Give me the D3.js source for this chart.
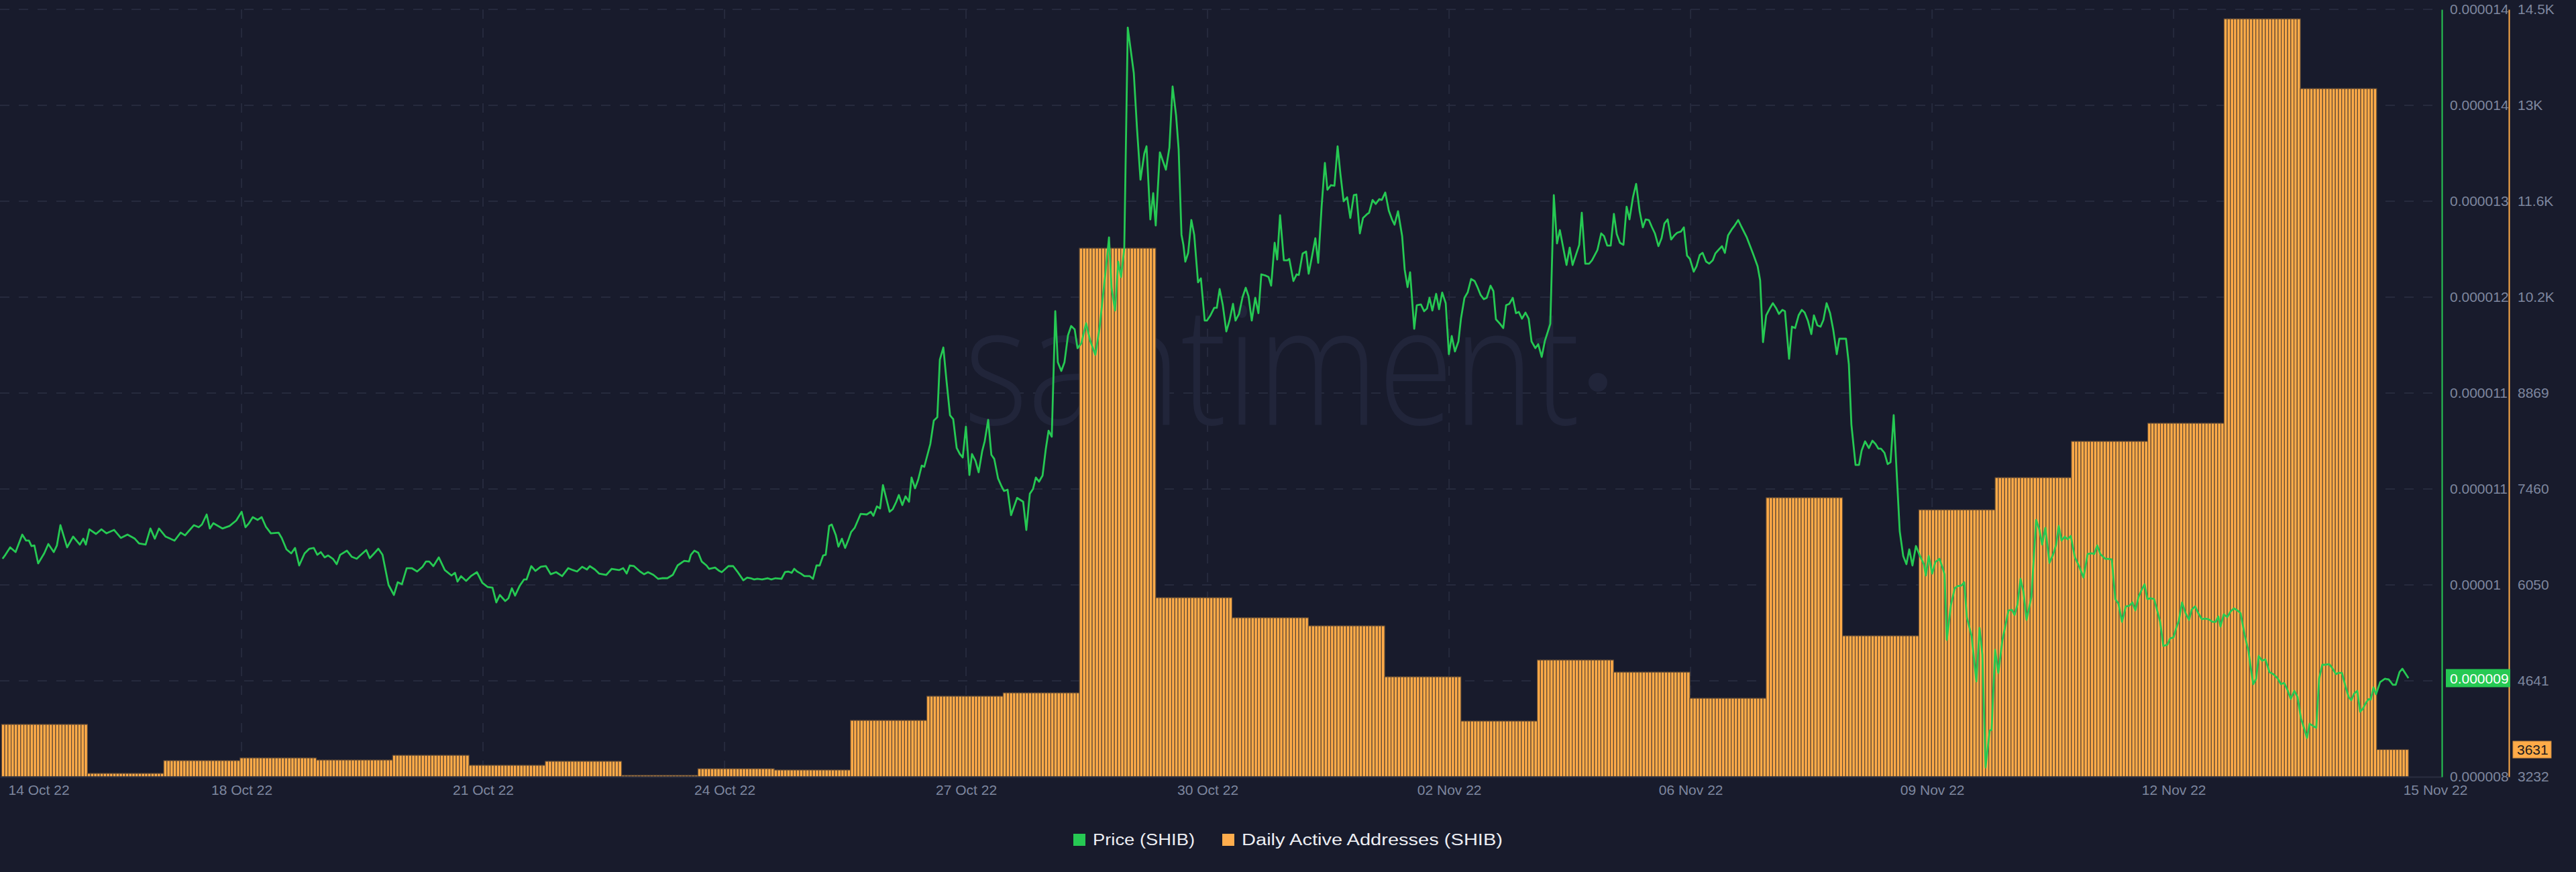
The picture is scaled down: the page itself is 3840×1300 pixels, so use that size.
<!DOCTYPE html>
<html><head><meta charset="utf-8">
<script src="https://cdn.jsdelivr.net/npm/d3@7"></script>
<style>
html,body{margin:0;padding:0;background:#181b2c;}
svg{display:block;}
text{font-family:"Liberation Sans",Arial,sans-serif;}
</style></head><body>
<svg id="chart" width="3840" height="1300"></svg>
<script>
// ---------------- DATA ----------------
const seriesStart = "2022-10-14T20:30:00Z";   // left edge of the time axis
const seriesSpanHours = 768;                   // 32 days shown

// Daily Active Addresses (SHIB), one value per UTC day
const daaDates = ["2022-10-14","2022-10-15","2022-10-16","2022-10-17","2022-10-18","2022-10-19","2022-10-20","2022-10-21","2022-10-22","2022-10-23","2022-10-24","2022-10-25","2022-10-26","2022-10-27","2022-10-28","2022-10-29","2022-10-30","2022-10-31","2022-11-01","2022-11-02","2022-11-03","2022-11-04","2022-11-05","2022-11-06","2022-11-07","2022-11-08","2022-11-09","2022-11-10","2022-11-11","2022-11-12","2022-11-13","2022-11-14","2022-11-15"];
const daaValues = [4001,4001,3281,3469,3508,3478,3547,3400,3459,3252,3350,3331,4060,4415,4464,10998,5863,5568,5449,4700,4050,4947,4769,4385,7332,5302,7154,7627,8160,8426,14368,13343,3631];
const daaFirstHour = "2022-10-14T21:00:00Z";
const daaLastHourEnd = "2022-11-15T10:00:00Z";

// Price (SHIB) in micro-USD, [hours since seriesStart, price]
const priceSeries = [[0.8,10.023],[1.7,10.054],[3.2,10.112],[4.9,10.075],[7.0,10.211],[8.2,10.164],[9.1,10.164],[9.9,10.122],[10.8,10.127],[12.0,9.987],[13.9,10.065],[15.2,10.138],[16.9,10.075],[17.9,10.127],[19.0,10.284],[21.1,10.112],[23.0,10.195],[25.1,10.133],[26.2,10.179],[27.0,10.133],[28.1,10.252],[30.2,10.216],[31.9,10.252],[33.5,10.221],[35.9,10.247],[38.0,10.185],[40.1,10.211],[42.4,10.179],[43.7,10.143],[45.8,10.133],[47.3,10.258],[48.7,10.179],[50.0,10.258],[52.1,10.195],[54.9,10.164],[56.8,10.226],[58.2,10.205],[59.5,10.242],[61.0,10.284],[62.5,10.268],[63.5,10.289],[65.0,10.367],[66.0,10.258],[67.1,10.299],[70.0,10.258],[72.2,10.278],[74.3,10.320],[76.0,10.388],[77.2,10.268],[78.3,10.299],[79.5,10.346],[81.0,10.325],[82.3,10.346],[83.6,10.273],[85.2,10.221],[87.6,10.226],[88.6,10.185],[90.1,10.096],[91.6,10.065],[92.8,10.107],[94.1,9.971],[95.8,10.065],[97.3,10.101],[98.7,10.107],[99.8,10.054],[100.9,10.075],[102.1,10.034],[103.2,10.049],[104.7,10.023],[105.9,9.981],[107.0,10.054],[109.1,10.086],[110.6,10.039],[112.2,10.023],[113.3,10.049],[115.2,10.091],[116.3,10.028],[117.5,10.060],[119.0,10.101],[120.3,10.054],[122.2,9.820],[123.9,9.742],[125.1,9.841],[126.4,9.825],[127.9,9.950],[129.5,9.950],[131.2,9.924],[132.9,9.961],[134.0,10.002],[135.0,10.002],[136.3,9.966],[138.0,10.034],[139.9,9.935],[142.0,9.893],[143.1,9.914],[143.9,9.846],[145.0,9.888],[146.6,9.851],[148.1,9.888],[150.0,9.919],[151.7,9.836],[153.4,9.804],[154.9,9.799],[156.1,9.684],[157.2,9.742],[158.9,9.695],[159.9,9.716],[161.0,9.794],[162.0,9.737],[163.5,9.815],[164.8,9.862],[165.6,9.862],[167.1,9.966],[168.4,9.929],[170.1,9.961],[171.7,9.966],[173.2,9.903],[174.9,9.919],[176.8,9.888],[178.7,9.950],[180.2,9.935],[181.5,9.924],[183.1,9.961],[184.6,9.940],[185.5,9.966],[187.1,9.940],[188.4,9.908],[190.7,9.898],[192.4,9.945],[194.7,9.935],[196.0,9.950],[197.1,9.908],[198.1,9.971],[199.4,9.966],[201.3,9.924],[202.6,9.903],[203.8,9.919],[205.5,9.898],[207.0,9.867],[208.2,9.872],[209.9,9.872],[211.6,9.898],[213.1,9.971],[215.2,10.007],[216.7,10.002],[217.3,10.054],[218.4,10.086],[219.6,10.070],[220.7,10.002],[222.2,9.971],[223.0,9.945],[224.9,9.955],[226.2,9.929],[227.0,9.919],[229.1,9.966],[230.6,9.966],[231.9,9.924],[233.8,9.856],[235.0,9.877],[236.1,9.872],[237.2,9.862],[238.2,9.867],[239.7,9.862],[241.4,9.872],[242.6,9.862],[243.9,9.872],[245.8,9.867],[246.9,9.919],[247.9,9.924],[249.0,9.914],[249.8,9.945],[250.7,9.924],[251.9,9.908],[253.0,9.888],[254.7,9.888],[255.7,9.867],[256.8,9.971],[257.8,9.971],[258.9,10.049],[259.7,10.054],[260.8,10.278],[261.6,10.289],[262.9,10.205],[263.7,10.117],[264.8,10.179],[265.8,10.107],[266.9,10.174],[267.7,10.231],[268.8,10.263],[270.7,10.372],[272.6,10.367],[273.9,10.388],[274.7,10.357],[275.8,10.430],[276.8,10.414],[277.7,10.596],[279.8,10.388],[280.8,10.409],[281.9,10.466],[282.7,10.518],[283.8,10.440],[284.8,10.508],[285.9,10.466],[286.7,10.654],[287.8,10.570],[288.8,10.638],[289.9,10.747],[290.7,10.737],[292.6,10.914],[293.7,11.096],[294.8,11.122],[295.6,11.570],[296.7,11.664],[297.7,11.404],[298.8,11.138],[299.8,11.107],[300.9,10.883],[301.9,10.836],[302.8,10.810],[303.8,11.049],[304.9,10.674],[305.7,10.836],[306.8,10.784],[307.8,10.695],[308.9,10.857],[309.7,10.935],[310.8,11.102],[311.8,10.831],[312.7,10.799],[313.9,10.648],[315.0,10.586],[315.8,10.549],[316.9,10.560],[318.0,10.362],[319.9,10.496],[321.8,10.466],[322.8,10.247],[323.9,10.528],[324.9,10.565],[325.8,10.654],[326.8,10.622],[327.9,10.669],[328.9,10.872],[329.8,11.018],[330.8,10.971],[331.9,11.946],[332.7,11.550],[333.8,11.482],[334.8,11.550],[335.9,11.758],[336.9,11.831],[338.0,11.805],[338.9,11.659],[340.1,11.696],[341.6,11.852],[342.9,11.716],[344.5,11.607],[345.8,11.810],[347.7,12.248],[348.8,12.519],[349.6,12.128],[350.7,11.951],[351.7,12.331],[352.6,12.211],[353.6,12.430],[354.7,14.149],[356.6,13.795],[357.6,13.368],[358.7,12.967],[359.9,13.170],[360.6,13.227],[361.8,12.659],[362.7,12.863],[363.5,12.612],[364.8,13.180],[366.7,13.045],[367.8,13.217],[368.8,13.691],[369.9,13.467],[370.7,13.206],[371.6,12.540],[372.2,12.461],[372.8,12.331],[373.7,12.399],[374.7,12.654],[375.6,12.540],[376.8,12.170],[377.7,12.201],[378.9,11.873],[379.6,11.873],[380.6,11.909],[381.9,11.972],[382.7,11.972],[383.6,12.118],[384.6,11.992],[385.7,11.789],[386.7,11.873],[387.8,12.003],[388.6,11.873],[389.7,11.925],[390.8,12.055],[391.8,12.128],[392.7,12.060],[393.7,11.873],[394.8,12.050],[395.8,11.930],[396.7,12.232],[398.1,12.222],[399.0,12.211],[399.8,12.144],[400.9,12.477],[401.7,12.347],[402.6,12.691],[403.8,12.341],[404.9,12.341],[405.5,12.352],[406.8,12.180],[407.8,12.232],[408.5,12.227],[409.7,12.394],[410.8,12.409],[411.6,12.237],[412.7,12.378],[413.7,12.513],[414.6,12.321],[415.7,12.769],[416.7,13.097],[417.5,12.889],[418.6,12.925],[419.7,12.920],[420.7,13.227],[421.6,13.008],[422.6,12.800],[423.7,12.831],[424.7,12.670],[425.8,12.847],[426.6,12.852],[427.7,12.550],[428.7,12.670],[429.8,12.696],[430.6,12.711],[431.7,12.810],[432.7,12.779],[433.8,12.816],[434.6,12.810],[435.7,12.868],[436.8,12.727],[437.8,12.659],[438.6,12.618],[439.7,12.722],[441.0,12.529],[441.8,12.269],[442.7,12.133],[443.5,12.248],[444.8,11.810],[445.6,11.992],[446.9,11.998],[447.9,11.946],[448.8,11.966],[449.6,12.050],[450.5,11.951],[451.7,12.081],[452.6,11.961],[453.6,12.091],[454.7,12.008],[455.7,11.612],[456.6,11.753],[457.6,11.633],[458.7,11.711],[459.5,11.888],[460.6,12.050],[461.6,12.091],[462.7,12.196],[463.8,12.180],[464.6,12.138],[465.7,12.071],[466.7,12.039],[467.6,12.050],[468.8,12.144],[469.7,12.102],[470.5,11.883],[471.8,11.847],[472.8,11.815],[473.7,11.992],[474.7,12.003],[475.8,12.050],[476.8,11.930],[477.7,11.940],[478.7,11.888],[479.8,11.935],[480.8,11.888],[481.7,11.711],[482.9,11.659],[483.8,11.690],[484.9,11.591],[485.9,11.716],[487.6,11.847],[488.7,12.847],[489.7,12.472],[490.6,12.576],[492.7,12.305],[493.7,12.440],[494.6,12.305],[496.7,12.461],[497.5,12.711],[498.6,12.315],[499.8,12.315],[500.7,12.341],[502.4,12.420],[503.6,12.550],[504.5,12.529],[505.5,12.456],[506.6,12.456],[507.6,12.701],[508.5,12.545],[509.5,12.477],[510.6,12.461],[511.6,12.758],[512.5,12.659],[513.6,12.831],[514.6,12.935],[515.7,12.722],[516.7,12.597],[517.6,12.659],[518.6,12.654],[519.5,12.602],[520.5,12.550],[521.6,12.451],[522.6,12.513],[523.5,12.628],[524.5,12.659],[525.6,12.503],[526.6,12.534],[527.5,12.555],[528.7,12.565],[529.6,12.597],[530.6,12.378],[531.5,12.352],[532.7,12.253],[533.6,12.295],[534.6,12.383],[535.5,12.399],[536.6,12.331],[537.6,12.315],[538.7,12.341],[539.5,12.394],[540.6,12.425],[541.6,12.451],[542.5,12.399],[543.5,12.534],[544.8,12.586],[545.6,12.612],[546.7,12.654],[547.7,12.602],[549.4,12.519],[550.7,12.435],[551.5,12.383],[552.8,12.295],[553.6,12.185],[554.5,11.706],[555.5,11.914],[556.6,11.966],[557.6,12.008],[558.7,11.966],[559.5,11.925],[560.6,11.956],[561.4,11.946],[562.7,11.576],[563.6,11.826],[564.6,11.815],[565.7,11.914],[566.7,11.956],[567.6,11.935],[568.6,11.873],[569.7,11.768],[570.5,11.914],[571.6,11.836],[572.6,11.826],[573.5,11.878],[574.5,12.008],[575.6,11.930],[576.6,11.800],[577.7,11.612],[578.5,11.732],[580.6,11.732],[581.5,11.534],[582.3,11.065],[583.6,10.752],[584.7,10.752],[585.5,10.862],[586.6,10.935],[587.8,10.883],[588.9,10.940],[589.9,10.914],[590.8,10.878],[591.6,10.878],[592.7,10.846],[593.7,10.758],[594.6,10.773],[595.6,11.138],[596.5,10.711],[597.5,10.237],[598.6,10.044],[599.6,9.981],[600.5,10.096],[601.5,9.971],[602.6,10.122],[603.8,10.049],[605.1,9.981],[605.7,9.893],[606.6,10.044],[607.7,9.908],[608.7,9.997],[610.0,10.023],[610.8,9.966],[611.6,9.903],[612.3,9.393],[613.6,9.664],[614.8,9.794],[615.7,9.810],[616.9,9.815],[617.8,9.841],[618.6,9.570],[620.1,9.424],[621.6,9.070],[622.6,9.486],[623.5,9.278],[624.5,8.403],[625.8,8.689],[626.4,8.694],[627.5,9.315],[628.5,9.137],[629.8,9.393],[630.9,9.523],[631.7,9.622],[632.8,9.627],[633.6,9.586],[634.5,9.664],[635.5,9.867],[636.4,9.768],[637.4,9.549],[638.9,9.726],[640.4,10.325],[641.4,10.252],[642.3,10.133],[643.3,10.263],[644.6,9.992],[645.8,10.060],[646.7,10.133],[647.5,10.278],[648.4,10.164],[649.4,10.195],[650.3,10.174],[651.3,10.200],[652.6,10.034],[653.9,9.966],[655.3,9.877],[656.6,10.060],[657.9,10.065],[658.7,10.060],[659.6,10.127],[660.6,10.060],[662.1,10.023],[662.9,10.023],[664.2,10.018],[665.3,9.710],[666.3,9.674],[667.4,9.533],[668.6,9.653],[669.7,9.658],[670.7,9.684],[671.6,9.622],[672.6,9.726],[673.5,9.778],[674.5,9.825],[675.4,9.710],[676.4,9.716],[677.5,9.710],[678.3,9.638],[679.4,9.533],[680.4,9.346],[681.7,9.356],[682.5,9.403],[683.6,9.413],[684.4,9.481],[685.3,9.544],[686.3,9.684],[687.4,9.601],[688.5,9.549],[689.3,9.627],[690.4,9.653],[691.4,9.601],[692.5,9.554],[693.5,9.559],[694.6,9.554],[695.9,9.533],[696.9,9.533],[697.7,9.575],[698.4,9.497],[699.4,9.591],[700.5,9.570],[701.5,9.612],[702.6,9.638],[703.7,9.622],[704.7,9.601],[706.0,9.429],[707.2,9.304],[708.1,9.143],[708.7,9.049],[709.6,9.091],[710.4,9.268],[711.5,9.231],[712.5,9.242],[713.8,9.143],[715.0,9.127],[716.3,9.096],[717.4,9.049],[718.4,9.059],[719.5,9.002],[720.5,8.934],[721.6,8.997],[722.6,8.950],[723.7,8.783],[724.7,8.705],[725.6,8.632],[726.4,8.742],[727.7,8.721],[728.5,8.710],[729.4,9.091],[730.4,9.200],[731.3,9.200],[732.6,9.205],[733.4,9.179],[734.7,9.127],[735.5,9.137],[736.6,9.137],[737.8,9.023],[738.7,8.950],[739.5,8.924],[740.4,8.976],[741.4,8.997],[742.3,8.835],[743.1,8.856],[744.2,8.908],[745.0,8.934],[745.6,8.929],[746.5,9.023],[747.3,8.971],[748.6,9.065],[750.1,9.091],[751.3,9.086],[752.6,9.044],[753.5,9.044],[754.7,9.143],[755.6,9.169],[756.4,9.137],[757.5,9.096]];

// Axis ticks
const xTickTimes = ["2022-10-14T20:30Z","2022-10-18T00:28Z","2022-10-21T04:25Z","2022-10-24T08:23Z","2022-10-27T12:20Z","2022-10-30T16:18Z","2022-11-02T20:16Z","2022-11-06T00:13Z","2022-11-09T04:11Z","2022-11-12T08:08Z","2022-11-15T18:24Z"];
const xTickLabels = ["14 Oct 22","18 Oct 22","21 Oct 22","24 Oct 22","27 Oct 22","30 Oct 22","02 Nov 22","06 Nov 22","09 Nov 22","12 Nov 22","15 Nov 22"];
const priceDomainMicro = [8.33, 14.29];
const priceTickLabels = ["0.000008","0.000009","0.00001","0.000011","0.000011","0.000012","0.000013","0.000014","0.000014"];
const daaDomain = [3232, 14507];
const daaTickLabels = ["3232","4641","6050","7460","8869","10.2K","11.6K","13K","14.5K"];
const legendItems = [{name:"Price (SHIB)", color:"#26c953", textWidth:152},{name:"Daily Active Addresses (SHIB)", color:"#ffad4d", textWidth:389}];

// ---------------- LAYOUT ----------------
const plotL = 0, plotR = 3640, plotT = 14, plotB = 1158;
const GREEN = "#26c953", ORANGE = "#ffab48", BG = "#181b2c", GRID = "#262a3d", AXIS_TXT = "#7e879f";
const TICK_FONT = "21px";

const svg = d3.select("#chart");
svg.append("rect").attr("width",3840).attr("height",1300).attr("fill",BG);

const t0 = new Date(seriesStart);
const hourMs = 3600e3;
const x = d3.scaleUtc().domain([t0, new Date(t0.getTime() + seriesSpanHours*hourMs)]).range([plotL, plotR]);
const yP = d3.scaleLinear().domain(priceDomainMicro).range([plotB, plotT]);
const yD = d3.scaleLinear().domain(daaDomain).range([plotB, plotT]);

const nTicks = priceTickLabels.length;
const priceTicks = d3.range(nTicks).map(i => priceDomainMicro[0] + i*(priceDomainMicro[1]-priceDomainMicro[0])/(nTicks-1));
const daaTicks = d3.range(nTicks).map(i => daaDomain[0] + i*(daaDomain[1]-daaDomain[0])/(nTicks-1));
const xTicks = xTickTimes.map(s => new Date(s));

// grid
const grid = svg.append("g");
grid.selectAll("line.h").data(priceTicks.slice(1)).join("line")
  .attr("x1",plotL).attr("x2",plotR).attr("y1",d=>yP(d)).attr("y2",d=>yP(d))
  .attr("stroke",GRID).attr("stroke-width",2).attr("stroke-dasharray","14,14");
grid.selectAll("line.v").data(xTicks.slice(1,-1)).join("line")
  .attr("x1",d=>x(d)).attr("x2",d=>x(d)).attr("y1",plotT).attr("y2",plotB)
  .attr("stroke",GRID).attr("stroke-width",2).attr("stroke-dasharray","14,14");

// watermark
const wm = svg.append("g").attr("fill","#21253a");
wm.append("text").text("santiment").attr("x",1437).attr("y",633)
  .style("font-family","'Open Sans', sans-serif").style("font-weight",300).style("font-size","245px")
  .attr("textLength",918).attr("lengthAdjust","spacingAndGlyphs");
wm.append("circle").attr("cx",2382).attr("cy",570).attr("r",14);

// bars: hourly stripes carrying the daily value
const daaByDay = new Map(daaDates.map((d,i)=>[d, daaValues[i]]));
const hours = d3.utcHour.range(new Date(daaFirstHour), new Date(daaLastHourEnd));
const stripes = hours.map(h => ({t:h, v: daaByDay.get(d3.utcFormat("%Y-%m-%d")(h))}));
svg.append("g").selectAll("rect").data(stripes).join("rect")
  .attr("x", d => x(d.t))
  .attr("width", d => x(d3.utcHour.offset(d.t,1)) - x(d.t))
  .attr("y", d => yD(d.v))
  .attr("height", d => plotB - yD(d.v))
  .attr("fill", ORANGE)
  .attr("stroke", "#5f4a36").attr("stroke-width", 1.2);

// x axis
const xAxis = svg.append("g").attr("transform",`translate(0,${plotB})`)
  .call(d3.axisBottom(x).tickValues(xTicks).tickFormat((d,i)=>xTickLabels[i]).tickSize(0).tickSizeOuter(0).tickPadding(12));
xAxis.select(".domain").attr("stroke","#2a2e40").attr("stroke-width",2);
xAxis.selectAll("text").attr("fill",AXIS_TXT).style("font-size",TICK_FONT).style("font-family","'Liberation Sans', Arial, sans-serif");
xAxis.selectAll(".tick").filter((d,i)=>i===0).select("text").attr("text-anchor","start").attr("x",12);

// price line
const line = d3.line()
  .x(d => x(new Date(t0.getTime() + d[0]*hourMs)))
  .y(d => yP(d[1]));
svg.append("path").datum(priceSeries).attr("d",line)
  .attr("fill","none").attr("stroke",GREEN).attr("stroke-width",2.8).attr("stroke-linejoin","round");

// right axes
const axP = svg.append("g").attr("transform",`translate(${plotR},0)`)
  .call(d3.axisRight(yP).tickValues(priceTicks).tickFormat((d,i)=>priceTickLabels[i]).tickSize(0).tickSizeOuter(0).tickPadding(12));
axP.select(".domain").attr("stroke",GREEN).attr("stroke-width",2);
axP.selectAll("text").attr("fill",AXIS_TXT).style("font-size",TICK_FONT).style("font-family","'Liberation Sans', Arial, sans-serif");

const axD = svg.append("g").attr("transform",`translate(${plotR+100},0)`)
  .call(d3.axisRight(yD).tickValues(daaTicks).tickFormat((d,i)=>daaTickLabels[i]).tickSize(0).tickSizeOuter(0).tickPadding(13));
axD.select(".domain").attr("stroke",ORANGE).attr("stroke-width",2);
axD.selectAll("text").attr("fill",AXIS_TXT).style("font-size",TICK_FONT).style("font-family","'Liberation Sans', Arial, sans-serif");

// last-value badges
const lastP = priceSeries[priceSeries.length-1][1];
const yLP = yP(lastP);
svg.append("rect").attr("x",plotR+6).attr("y",yLP-13.5).attr("width",96).attr("height",27).attr("fill",GREEN);
svg.append("text").attr("x",plotR+12).attr("y",yLP).attr("dy","0.36em").attr("fill","#ffffff")
  .style("font-size",TICK_FONT).text(String(+(lastP*1e-6).toFixed(6)));
const lastD = daaValues[daaValues.length-1];
const yLD = yD(lastD);
svg.append("rect").attr("x",plotR+106).attr("y",yLD-12.5).attr("width",57).attr("height",25)
  .attr("fill",ORANGE).attr("stroke","#c98a40").attr("stroke-width",1);
svg.append("text").attr("x",plotR+112).attr("y",yLD).attr("dy","0.36em").attr("fill","#1b1b1f")
  .style("font-size",TICK_FONT).text(String(lastD));

// legend
const lg = svg.append("g");
let cx = 0;
legendItems.forEach(it => {
  const g = lg.append("g").attr("transform",`translate(${cx},0)`);
  g.append("rect").attr("width",18).attr("height",18).attr("y",-9).attr("fill",it.color);
  g.append("text").attr("x",29).attr("dy","0.36em").attr("fill","#eceef3").style("font-size","23px")
    .attr("textLength",it.textWidth).attr("lengthAdjust","spacingAndGlyphs").text(it.name);
  cx += 29 + it.textWidth + 41;
});
const totalW = cx - 41;
lg.attr("transform",`translate(${1920 - totalW/2},1252)`);
</script>
</body></html>
